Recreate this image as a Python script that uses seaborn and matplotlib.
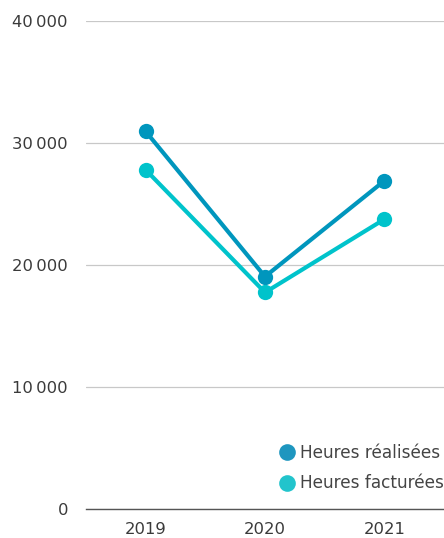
import matplotlib
matplotlib.use("Agg")
import matplotlib.pyplot as plt
from matplotlib.lines import Line2D
import seaborn as sns
import pandas as pd

years = ["2019", "2020", "2021"]
heures_realisees = [30950, 19050, 26900]
heures_facturees = [27800, 17750, 23750]
series_names = ["Heures réalisées", "Heures facturées"]
y_ticks = [0, 10000, 20000, 30000, 40000]
y_tick_labels = ["0", "10\u2009000", "20\u2009000", "30\u2009000", "40\u2009000"]

colors = ["#0096BD", "#00C3CB"]
legend_colors = ["#1E96BF", "#22C4CC"]

df = pd.DataFrame({
    "year": years * 2,
    "value": heures_realisees + heures_facturees,
    "series": [series_names[0]] * 3 + [series_names[1]] * 3,
})

sns.set_style("white")
plt.rcParams["font.family"] = ["DejaVu Sans"]

fig = plt.figure(figsize=(4.44, 5.38), dpi=100)
ax = fig.add_axes([86 / 444, 29 / 538, 358 / 444, 488 / 538])

sns.lineplot(data=df, x="year", y="value", hue="series", palette=colors,
             marker="o", markersize=11, markeredgewidth=0, linewidth=3,
             sort=False, ax=ax, legend=False, zorder=3)

ax.set_xlim(-0.5, 2.5)
ax.set_ylim(0, 40000)
ax.set_yticks(y_ticks)
ax.set_yticklabels(y_tick_labels)
ax.set_xticks(range(len(years)))
ax.set_xticklabels(years)
ax.set_xlabel("")
ax.set_ylabel("")
ax.grid(axis="y", color="#C8C8C8", linewidth=0.9)
ax.grid(axis="x", visible=False)
for s in ["top", "right", "left"]:
    ax.spines[s].set_visible(False)
ax.spines["bottom"].set_color("#555555")
ax.spines["bottom"].set_linewidth(1.0)
ax.tick_params(axis="y", length=0, pad=13, labelsize=11.8, labelcolor="#3a3a3a")
ax.tick_params(axis="x", length=0, pad=9.5, labelsize=11.8, labelcolor="#3a3a3a")

handles = [Line2D([], [], linestyle="none", marker="o", markersize=12,
                  markerfacecolor=c, markeredgewidth=0) for c in legend_colors]
leg = ax.legend(handles, series_names, loc="upper left",
                bbox_to_anchor=((275 - 86) / 358, (509 - 437) / 488),
                frameon=False, handlelength=0.6, handletextpad=0.45,
                labelspacing=0.75, fontsize=12.2, borderaxespad=0)
for t in leg.get_texts():
    t.set_color("#444444")

fig.savefig("out.png", dpi=100)
